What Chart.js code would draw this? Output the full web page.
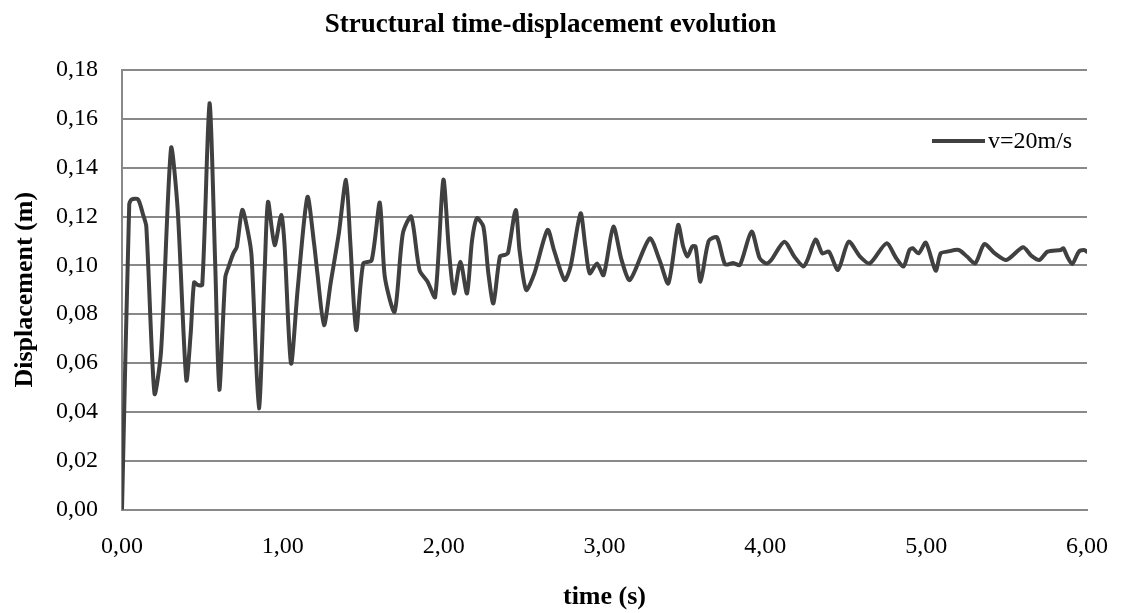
<!DOCTYPE html>
<html><head><meta charset="utf-8">
<script src="https://cdn.jsdelivr.net/npm/chart.js@4.4.1/dist/chart.umd.min.js"></script>
<style>html,body{margin:0;padding:0;background:#fff;} canvas{display:block;}</style>
</head><body>
<canvas id="c" width="1131" height="613"></canvas>
<script>
const chartTitle = 'Structural time-displacement evolution';
const seriesLabel = 'v=20m/s';
const xAxisTitle = 'time (s)';
const yAxisTitle = 'Displacement (m)';
const xTickLabels = ['0,00','1,00','2,00','3,00','4,00','5,00','6,00'];
const yTickLabels = ['0,00','0,02','0,04','0,06','0,08','0,10','0,12','0,14','0,16','0,18'];

const timeValues = [
  0, 0.045, 0.06, 0.10, 0.13, 0.151, 0.202, 0.243, 0.305, 0.346,
  0.40, 0.427, 0.448, 0.47, 0.499, 0.544, 0.58, 0.605, 0.642, 0.663,
  0.693, 0.714, 0.748, 0.785, 0.806, 0.851, 0.888, 0.908, 0.949, 0.99,
  1.01, 1.051, 1.092, 1.153, 1.194, 1.215, 1.256, 1.297, 1.348, 1.393,
  1.419, 1.456, 1.50, 1.552, 1.603, 1.634, 1.695, 1.746, 1.798, 1.85,
  1.90, 1.947, 1.998, 2.033, 2.064, 2.104, 2.145, 2.176, 2.207, 2.247,
  2.278, 2.309, 2.35, 2.381, 2.40, 2.448, 2.472, 2.513, 2.564, 2.646,
  2.687, 2.752, 2.789, 2.851, 2.881, 2.908, 2.953, 2.994, 3.055, 3.106,
  3.158, 3.281, 3.342, 3.397, 3.458, 3.489, 3.515, 3.546, 3.566, 3.597,
  3.648, 3.699, 3.75, 3.801, 3.842, 3.914, 3.965, 4.006, 4.037, 4.118,
  4.18, 4.237, 4.262, 4.313, 4.354, 4.395, 4.452, 4.518, 4.589, 4.65,
  4.753, 4.814, 4.859, 4.896, 4.916, 4.953, 4.998, 5.059, 5.09, 5.131,
  5.202, 5.254, 5.305, 5.362, 5.427, 5.499, 5.602, 5.653, 5.704, 5.755,
  5.837, 5.853, 5.877, 5.908, 5.949, 5.98, 6.0
];
const displacementValues = [
  0, 0.125, 0.127, 0.127, 0.121, 0.116, 0.0475, 0.065, 0.148, 0.123,
  0.053, 0.072, 0.093, 0.092, 0.092, 0.1664, 0.0995, 0.049, 0.095, 0.0995,
  0.105, 0.1076, 0.1227, 0.113, 0.1035, 0.0414, 0.0995, 0.126, 0.1083, 0.1206,
  0.109, 0.0598, 0.09, 0.128, 0.109, 0.0967, 0.0755, 0.0926, 0.113, 0.135,
  0.110, 0.0735, 0.1008, 0.102, 0.1257, 0.0953, 0.081, 0.113, 0.12, 0.098,
  0.0933, 0.087, 0.135, 0.106, 0.0885, 0.1015, 0.0885, 0.110, 0.1193, 0.1158,
  0.0967, 0.0844, 0.1036, 0.1043, 0.105, 0.1227, 0.106, 0.0899, 0.0967, 0.1145,
  0.106, 0.094, 0.0995, 0.1213, 0.1077, 0.0967, 0.1008, 0.096, 0.1158, 0.1022,
  0.094, 0.111, 0.1022, 0.0926, 0.1165, 0.1077, 0.1036, 0.1077, 0.1077, 0.0933,
  0.110, 0.1115, 0.1004, 0.101, 0.1001, 0.1138, 0.1029, 0.1008, 0.1022, 0.1097,
  0.1036, 0.0995, 0.1022, 0.1106, 0.1049, 0.1056, 0.0981, 0.1097, 0.1036, 0.1008,
  0.109, 0.1029, 0.0995, 0.1063, 0.107, 0.1049, 0.1093, 0.0978, 0.1049, 0.1056,
  0.1063, 0.1036, 0.1008, 0.1087, 0.1049, 0.1022, 0.1074, 0.104, 0.1022, 0.1056,
  0.1063, 0.107, 0.1036, 0.1005, 0.1056, 0.1063, 0.1056
];

const FONT = '"Liberation Serif", "Times New Roman", serif';
const LINE_COLOR = '#404040';
const GRID_COLOR = '#898989';

const points = timeValues.map((t, i) => ({x: t, y: displacementValues[i]}));

const legendPlugin = {
  id: 'insideLegend',
  afterDraw(chart) {
    const ctx = chart.ctx;
    const ds = chart.data.datasets[0];
    ctx.save();
    ctx.strokeStyle = ds.borderColor;
    ctx.lineWidth = 4;
    ctx.lineCap = 'butt';
    ctx.beginPath();
    ctx.moveTo(932, 141);
    ctx.lineTo(985, 141);
    ctx.stroke();
    ctx.fillStyle = '#000';
    ctx.font = '24px ' + FONT;
    ctx.textAlign = 'left';
    ctx.textBaseline = 'alphabetic';
    ctx.fillText(ds.label, 988, 148);
    ctx.restore();
  }
};

new Chart(document.getElementById('c'), {
  type: 'scatter',
  data: {
    datasets: [{
      label: seriesLabel,
      data: points,
      showLine: true,
      borderColor: LINE_COLOR,
      backgroundColor: LINE_COLOR,
      borderWidth: 4,
      pointRadius: 0,
      tension: 0.25,
      borderJoinStyle: 'round',
      borderCapStyle: 'round'
    }]
  },
  options: {
    responsive: false,
    animation: false,
    layout: {padding: {left: 0, right: 30, top: 0, bottom: 0}},
    plugins: {
      legend: {display: false},
      tooltip: {enabled: false},
      title: {
        display: true,
        text: chartTitle,
        color: '#000',
        font: {family: FONT, size: 27, weight: 'bold', lineHeight: 1.2},
        padding: {top: 8.8, bottom: 28.8}
      }
    },
    scales: {
      x: {
        type: 'linear',
        min: 0, max: 6,
        ticks: {
          stepSize: 1, padding: 23, color: '#000', maxRotation: 0,
          font: {family: FONT, size: 24, lineHeight: 1.2},
          callback: (v) => xTickLabels[Math.round(v)]
        },
        grid: {display: false, drawTicks: false},
        border: {display: true, color: GRID_COLOR, width: 2},
        title: {
          display: true, text: xAxisTitle, color: '#000',
          font: {family: FONT, size: 26, weight: 'bold', lineHeight: 1.2},
          padding: {top: 0, bottom: 0}
        },
        afterFit(s) { s.height = 103.5; }
      },
      y: {
        min: 0, max: 0.18,
        ticks: {
          stepSize: 0.02, padding: 24, color: '#000',
          font: {family: FONT, size: 24, lineHeight: 1.2},
          callback: (v) => yTickLabels[Math.round(v / 0.02)]
        },
        grid: {color: GRID_COLOR, lineWidth: 2, drawTicks: false},
        border: {display: true, color: GRID_COLOR, width: 2},
        title: {
          display: true, text: yAxisTitle, color: '#000',
          font: {family: FONT, size: 26, weight: 'bold', lineHeight: 1.2},
          padding: {top: 9.4, bottom: 0}
        },
        afterFit(s) { s.width = 122; }
      }
    }
  },
  plugins: [legendPlugin]
});
</script>
</body></html>
